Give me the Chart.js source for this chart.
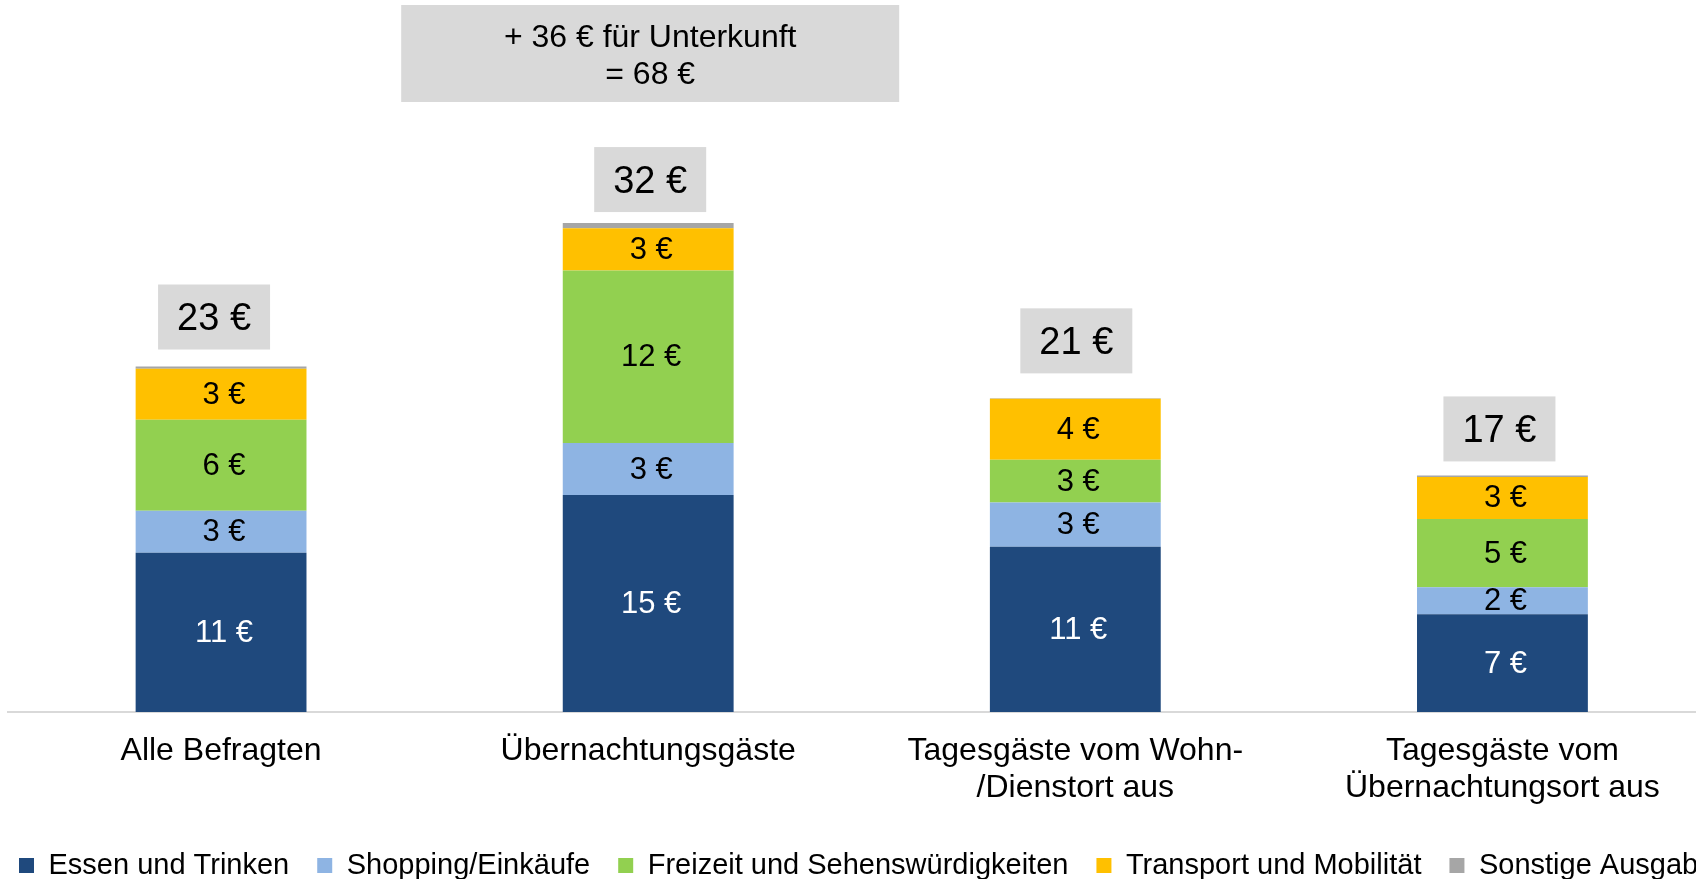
<!DOCTYPE html>
<html>
<head>
<meta charset="utf-8">
<script src="https://cdn.jsdelivr.net/npm/chart.js@4.4.0/dist/chart.umd.min.js"></script>
<style>
  html, body { margin: 0; padding: 0; background: #fff; overflow: hidden; }
  #wrap { position: relative; width: 1780px; height: 879px; }
</style>
</head>
<body>
<div id="wrap"><canvas id="chart"></canvas></div>
<script>
const categories = ['Alle Befragten', 'Übernachtungsgäste', ['Tagesgäste vom Wohn-', '/Dienstort aus'], ['Tagesgäste vom', 'Übernachtungsort aus']];
const seriesNames = ['Essen und Trinken', 'Shopping/Einkäufe', 'Freizeit und Sehenswürdigkeiten', 'Transport und Mobilität', 'Sonstige Ausgaben'];

// bar heights in euro
const essen = [10.6, 14.45, 11.0, 6.5];
const shopping = [2.8, 3.45, 2.95, 1.8];
const freizeit = [6.05, 11.5, 2.85, 4.55];
const transport = [3.4, 2.8, 4.05, 2.8];
const sonstige = [0.15, 0.35, 0.03, 0.1];

// printed labels
const essenLabels = [11, 15, 11, 7];
const shoppingLabels = [3, 3, 3, 2];
const freizeitLabels = [6, 12, 3, 5];
const transportLabels = [3, 3, 4, 3];
const totals = [23, 32, 21, 17];
const noteLines = ['+ 36 € für Unterkunft', '= 68 €'];

const colors = ['#1F497D', '#8EB4E3', '#92D050', '#FFC000', '#A6A6A6'];
const labelColors = ['#ffffff', '#000000', '#000000', '#000000', null];

Chart.defaults.font.family = '"Liberation Sans", Arial, sans-serif';
Chart.defaults.color = '#000';

const labelPlugin = {
  id: 'labelPlugin',
  afterDatasetsDraw(chart, args, opts) {
    const ctx = chart.ctx;
    const segLabels = [essenLabels, shoppingLabels, freizeitLabels, transportLabels];
    ctx.save();
    ctx.textAlign = 'center';
    ctx.textBaseline = 'middle';
    ctx.font = '31px "Liberation Sans", Arial, sans-serif';
    segLabels.forEach((vals, d) => {
      const meta = chart.getDatasetMeta(d);
      meta.data.forEach((el, i) => {
        ctx.fillStyle = labelColors[d];
        ctx.fillText(vals[i] + ' €', el.x + 3, (el.y + el.base) / 2 + 1);
      });
    });

    // total boxes
    const top = chart.getDatasetMeta(4);
    ctx.font = '38px "Liberation Sans", Arial, sans-serif';
    top.data.forEach((el, i) => {
      const w = 112, h = 65;
      const cx = el.x + opts.shifts[i];
      const bottom = el.y - opts.gaps[i];
      ctx.fillStyle = '#D9D9D9';
      ctx.fillRect(cx - w / 2, bottom - h, w, h);
      ctx.fillStyle = '#000';
      ctx.fillText(totals[i] + ' €', cx, bottom - h / 2 + 3);
    });

    // note above second bar
    const el2 = chart.getDatasetMeta(0).data[1];
    const nw = 498, nh = 97, ny = chart.chartArea.top + 5, nx = el2.x + 2;
    ctx.fillStyle = '#D9D9D9';
    ctx.fillRect(nx - nw / 2, ny, nw, nh);
    ctx.fillStyle = '#000';
    ctx.font = '32px "Liberation Sans", Arial, sans-serif';
    ctx.fillText(noteLines[0], nx, ny + 33);
    ctx.fillText(noteLines[1], nx, ny + 70);
    ctx.restore();
  }
};

const seriesData = [essen, shopping, freizeit, transport, sonstige];

new Chart('chart', {
  type: 'bar',
  data: {
    labels: categories,
    datasets: seriesNames.map((name, d) => ({
      label: name,
      data: seriesData[d],
      backgroundColor: colors[d],
      borderWidth: 0,
      barPercentage: 0.4,
      categoryPercentage: 1.0
    }))
  },
  options: {
    responsive: true,
    maintainAspectRatio: false,
    animation: false,
    layout: { padding: { left: -9, right: 0, top: 0, bottom: -11 } },
    plugins: {
      tooltip: { enabled: false },
      legend: {
        position: 'bottom',
        align: 'start',
        labels: {
          font: { size: 29 },
          boxWidth: 15,
          boxHeight: 15,
          padding: 28,
          color: '#000'
        }
      },
      labelPlugin: { gaps: [17, 11, 25, 14], shifts: [-7, 2, 1, -3] }
    },
    scales: {
      x: {
        stacked: true,
        grid: { display: false, drawTicks: false },
        border: { display: true, color: '#D9D9D9', width: 2 },
        ticks: { font: { size: 32, lineHeight: 1.15 }, color: '#000', padding: 21, maxRotation: 0, autoSkip: false },
        afterFit(scale) { scale.height = 111; }
      },
      y: {
        stacked: true,
        min: 0,
        max: 47.4,
        grid: { display: false },
        border: { display: false },
        ticks: { display: false },
        afterFit(scale) { scale.width = 16.5; }
      },
      y2: {
        position: 'right',
        grid: { display: false },
        border: { display: false },
        ticks: { display: false },
        afterFit(scale) { scale.width = 64; }
      }
    }
  },
  plugins: [labelPlugin]
});
</script>
</body>
</html>
